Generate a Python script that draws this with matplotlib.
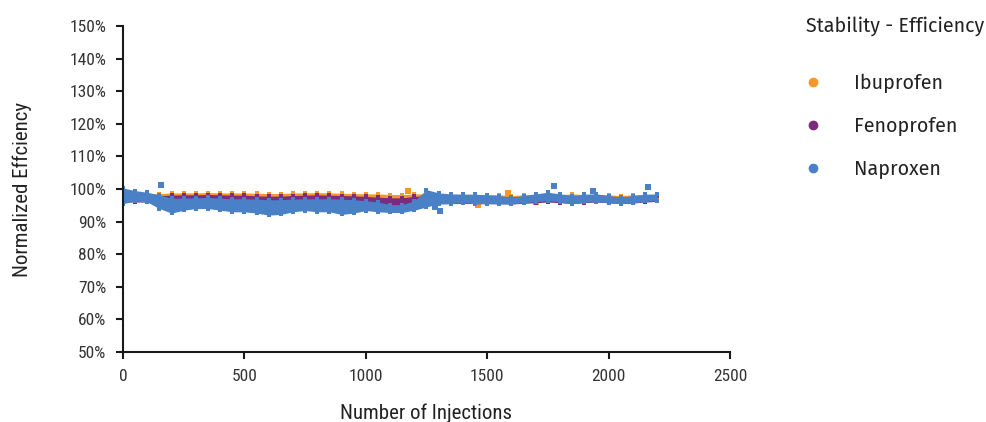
import matplotlib
matplotlib.use("Agg")
import matplotlib.pyplot as plt
from matplotlib.ticker import FuncFormatter, MultipleLocator
from matplotlib import font_manager

# ---------------- data ----------------
injections = [0, 50, 100, 150, 200, 250, 300, 350, 400, 450, 500, 550, 600, 650,
              700, 750, 800, 850, 900, 950, 1000, 1050, 1100, 1150, 1200, 1250,
              1300, 1350, 1400, 1450, 1500, 1550, 1600, 1650, 1700, 1750, 1800,
              1850, 1900, 1950, 2000, 2050, 2100, 2150, 2200]

ibuprofen_upper = [99.0, 98.5, 98.5, 98.6, 98.8, 98.8, 98.8, 98.9, 98.8, 98.8, 98.8, 98.7,
                   98.6, 98.6, 98.8, 98.8, 98.9, 98.8, 98.7, 98.6, 98.5, 98.5, 98.3, 98.3,
                   98.5, 98.5, 98.3, 98.3, 98.4, 98.3, 98.3, 98.2, 98.0, 98.2, 98.4, 98.6,
                   98.3, 98.5, 98.3, 98.4, 98.2, 98.0, 98.2, 98.3, 98.3]
ibuprofen_lower = [97.0, 97.0, 97.0, 97.2, 97.5, 97.5, 97.5, 97.6, 97.5, 97.5, 97.4, 97.3,
                   97.2, 97.2, 97.4, 97.5, 97.5, 97.4, 97.3, 97.2, 97.0, 97.0, 96.8, 96.8,
                   97.0, 97.0, 97.0, 97.0, 97.0, 97.0, 97.0, 96.8, 96.6, 96.8, 97.0, 97.2,
                   97.0, 97.0, 97.0, 97.0, 96.8, 96.6, 96.8, 97.0, 97.0]

fenoprofen_upper = [98.5, 98.3, 98.2, 98.0, 98.1, 98.2, 98.2, 98.3, 98.2, 98.1, 98.1, 97.9,
                    97.8, 97.8, 98.0, 98.1, 98.2, 98.1, 98.0, 97.9, 97.7, 97.5, 97.3, 97.3,
                    97.7, 98.0, 98.0, 98.0, 98.0, 97.9, 97.8, 97.8, 97.5, 97.8, 98.0, 98.2,
                    98.0, 97.8, 97.9, 98.0, 97.8, 97.5, 97.7, 97.9, 98.0]
fenoprofen_lower = [96.0, 96.0, 96.0, 95.8, 95.5, 95.5, 95.6, 95.7, 95.5, 95.4, 95.3, 95.2,
                    95.0, 95.0, 95.2, 95.3, 95.4, 95.3, 95.1, 95.0, 94.8, 94.6, 94.4, 94.4,
                    94.8, 95.2, 95.5, 95.5, 95.6, 95.5, 95.5, 95.5, 95.4, 95.6, 95.8, 96.0,
                    95.8, 95.5, 95.8, 96.0, 95.8, 95.5, 95.7, 96.0, 96.2]

naproxen_upper = [100.3, 99.5, 99.0, 98.2, 97.2, 97.2, 97.3, 97.4, 97.2, 97.0, 97.0, 96.9,
                  96.7, 96.7, 96.9, 97.0, 97.0, 97.0, 96.9, 96.7, 96.4, 96.0, 95.2, 95.2,
                  96.4, 99.8, 98.8, 98.5, 98.4, 98.4, 98.2, 98.0, 97.5, 98.0, 98.5, 99.0,
                  98.5, 98.0, 98.4, 98.5, 98.0, 97.5, 98.0, 98.4, 98.5]
naproxen_lower = [95.5, 96.3, 96.0, 94.0, 92.6, 93.5, 94.0, 94.0, 93.5, 93.0, 93.0, 92.6,
                  92.0, 92.2, 93.0, 93.4, 93.0, 93.0, 92.2, 92.6, 93.4, 93.0, 92.8, 92.8,
                  93.5, 94.5, 95.4, 95.5, 95.8, 95.5, 95.5, 95.4, 95.4, 95.8, 96.1, 96.4,
                  96.0, 95.5, 95.9, 96.1, 95.7, 95.5, 95.7, 96.2, 96.4]

ibuprofen_out_x = [1174, 1462, 1586, 1701]
ibuprofen_out_y = [99.5, 95.2, 98.8, 96.0]
naproxen_out_x = [155, 1285, 1306, 1776, 1935, 2162]
naproxen_out_y = [101.3, 94.6, 93.3, 100.9, 99.5, 100.7]

series_names = ["Ibuprofen", "Fenoprofen", "Naproxen"]
colors = ["#F5982A", "#7C2B7F", "#4A80C6"]

# ---------------- fonts ----------------
avail = {f.name for f in font_manager.fontManager.ttflist}
def pick(*names):
    for n in names:
        if n in avail:
            return n
    return "DejaVu Sans"
cond = pick("Roboto Condensed", "Archivo Narrow", "Asap Condensed", "Barlow Condensed")
legfont = pick("Fira Sans", "Open Sans", "Noto Sans")

fig = plt.figure(figsize=(9.86, 4.22), dpi=100)
ax = fig.add_axes([0.1247, 0.1659, 0.6157, 0.7725])

uppers = [ibuprofen_upper, fenoprofen_upper, naproxen_upper]
lowers = [ibuprofen_lower, fenoprofen_lower, naproxen_lower]
for name, col, up, lo in zip(series_names, colors, uppers, lowers):
    ax.fill_between(injections, [u / 100 for u in up], [l / 100 for l in lo],
                    color=col, lw=0, zorder=2)
    ax.scatter(injections, [u / 100 for u in up], s=10, marker="s", color=col, lw=0, zorder=2)
    ax.scatter(injections, [l / 100 for l in lo], s=10, marker="s", color=col, lw=0, zorder=2)
    if name == "Ibuprofen":
        ax.scatter(ibuprofen_out_x, [v / 100 for v in ibuprofen_out_y], s=14, marker="s",
                   color=col, lw=0, zorder=2)
    if name == "Naproxen":
        ax.scatter(naproxen_out_x, [v / 100 for v in naproxen_out_y], s=14, marker="s",
                   color=col, lw=0, zorder=2)

ax.set_xlim(0, 2500)
ax.set_ylim(0.5, 1.5)
ax.xaxis.set_major_locator(MultipleLocator(500))
ax.yaxis.set_major_locator(MultipleLocator(0.1))
ax.yaxis.set_major_formatter(FuncFormatter(lambda v, p: f"{v*100:.0f}%"))

for s in ["top", "right"]:
    ax.spines[s].set_visible(False)
for s in ["left", "bottom"]:
    ax.spines[s].set_linewidth(1.5)
    ax.spines[s].set_color("#1a1a1a")
ax.tick_params(axis="both", direction="out", length=5, width=1.5, color="#1a1a1a",
               labelsize=12.5, labelcolor="#333333", pad=7)
for lab in ax.get_xticklabels() + ax.get_yticklabels():
    lab.set_fontfamily(cond)

ax.set_xlabel("Number of Injections", fontsize=15, family=cond, color="#222222", labelpad=14)
ax.set_ylabel("Normalized Effciency", fontsize=15, family=cond, color="#222222", labelpad=27)

handles = [plt.Line2D([], [], ls="", marker="o", ms=6, color=c) for c in colors]
leg = fig.legend(handles, series_names, loc="upper left", bbox_to_anchor=(0.8174, 0.962),
                 frameon=False, title="Stability - Efficiency", alignment="left",
                 prop={"family": legfont, "size": 14.2}, handletextpad=1.7,
                 labelspacing=1.18, borderaxespad=0, borderpad=0, handlelength=0.75)
leg.get_title().set_fontfamily(legfont)
leg.get_title().set_fontsize(14.2)
leg.get_title().set_color("#222222")
leg._legend_box.sep = 27
for t in leg.get_texts():
    t.set_color("#222222")

fig.savefig("out.png", dpi=100)
